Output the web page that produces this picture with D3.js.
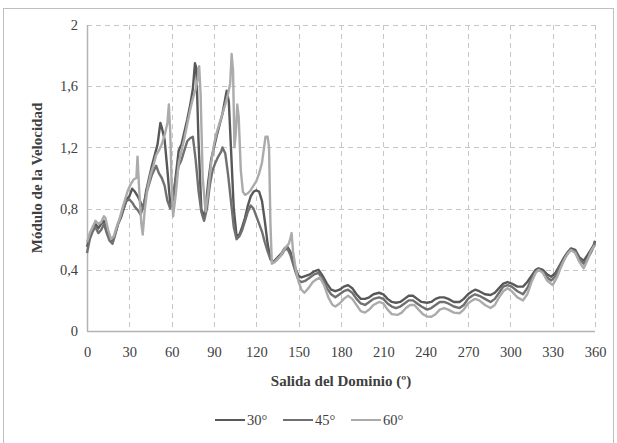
<!DOCTYPE html>
<html>
<head>
<meta charset="utf-8">
<script src="https://cdn.jsdelivr.net/npm/d3@7"></script>
<style>
  body { margin: 0; background: #fff; }
  svg text { font-family: "Liberation Serif", "Tinos", "Times New Roman", "DejaVu Serif", serif; fill: #404040; }
  .tick-label { font-size: 14.5px; }
  .axis-title { font-size: 15px; font-weight: bold; }
  .legend-label { font-size: 14.5px; }
</style>
</head>
<body>
<svg id="chart"></svg>
<script>
// Salida del Dominio (deg) vs Modulo de la Velocidad
const angles30 = [0,2,4,6,8,10,12,14,16,18,20,22,24,26,28,30,32,34,36,38,40,42,44,46,48,50,52,53,55,57,59,61,63,65,67,69,71,73,75,76.5,77.5,79,81,82.5,84,86,88,90,92,94,96,98,99,100.5,102,104,106,108,110,112,114,116,118,120,122,124,126,128,130,132,134,136,138,140,142,144,146,148,150,152,155,158,161,164,167,170,173,176,179,182,185,188,191,194,197,200,203,207,210,213,216,219,222,225,228,231,234,237,241,244,247,250,253,256,260,264,267,270,273,275,278,282,286,289,292,295,298,301,305,309,312,315,318,320,323,326,329,332,335,338,341,343,346,349,352,355,357,359,360];
const vel30 = [0.55,0.62,0.66,0.70,0.67,0.70,0.72,0.65,0.60,0.58,0.64,0.70,0.74,0.80,0.86,0.88,0.93,0.91,0.88,0.84,0.80,0.92,1.00,1.08,1.15,1.22,1.36,1.33,1.25,1.05,0.83,0.86,1.02,1.18,1.22,1.30,1.38,1.47,1.58,1.75,1.72,1.25,0.80,0.74,0.80,0.98,1.12,1.20,1.28,1.35,1.42,1.52,1.57,1.50,1.20,0.80,0.62,0.63,0.68,0.74,0.82,0.88,0.91,0.92,0.91,0.85,0.72,0.57,0.47,0.45,0.47,0.49,0.51,0.54,0.55,0.52,0.46,0.40,0.36,0.35,0.36,0.37,0.39,0.40,0.36,0.31,0.27,0.26,0.27,0.29,0.30,0.28,0.24,0.21,0.21,0.22,0.24,0.25,0.24,0.21,0.19,0.185,0.19,0.21,0.23,0.23,0.21,0.19,0.185,0.19,0.21,0.22,0.22,0.21,0.19,0.19,0.21,0.24,0.26,0.27,0.26,0.24,0.235,0.25,0.28,0.31,0.32,0.31,0.29,0.29,0.32,0.36,0.40,0.41,0.40,0.37,0.355,0.38,0.43,0.48,0.52,0.54,0.53,0.48,0.46,0.50,0.53,0.56,0.59];

const angles45 = [0,2,4,6,8,10,12,14,16,18,20,22,24,26,28,30,32,34,36,38,40,42,44,46,48,49,51,53,55,57,59,61,63,65,67,69,71,73,75,77,79,81,83,85,87,89,91,93,95,96,98,100,102,104,106,108,110,112,114,116,118,120,122,124,126,128,130,132,134,136,138,140,142,144,146,148,150,152,155,158,161,164,167,170,173,176,179,182,185,188,191,194,197,200,203,207,210,213,216,219,222,225,228,231,234,237,241,244,247,250,253,256,260,264,267,270,273,275,278,282,286,289,292,295,298,301,305,309,312,315,318,320,323,326,329,332,335,338,341,343,346,349,352,355,357,359,360];
const vel45 = [0.51,0.60,0.65,0.68,0.64,0.66,0.70,0.64,0.59,0.57,0.63,0.70,0.75,0.80,0.85,0.86,0.84,0.81,0.79,0.76,0.82,0.90,0.96,1.02,1.06,1.08,1.03,1.00,0.95,0.85,0.80,0.88,1.00,1.08,1.12,1.18,1.24,1.26,1.27,1.12,0.92,0.78,0.72,0.80,0.95,1.05,1.10,1.14,1.17,1.20,1.16,1.02,0.85,0.68,0.60,0.62,0.66,0.72,0.78,0.82,0.80,0.75,0.70,0.65,0.58,0.52,0.47,0.45,0.46,0.48,0.50,0.53,0.54,0.50,0.44,0.38,0.33,0.32,0.33,0.35,0.37,0.38,0.34,0.28,0.24,0.22,0.24,0.26,0.27,0.25,0.21,0.18,0.17,0.19,0.21,0.22,0.21,0.18,0.16,0.15,0.16,0.18,0.20,0.20,0.18,0.16,0.14,0.15,0.17,0.19,0.19,0.18,0.16,0.15,0.17,0.21,0.23,0.24,0.23,0.21,0.19,0.21,0.25,0.29,0.30,0.29,0.26,0.24,0.28,0.34,0.39,0.40,0.39,0.35,0.33,0.36,0.42,0.47,0.51,0.53,0.52,0.47,0.44,0.48,0.51,0.55,0.58];

const angles60 = [0,2,4,6,8,10,12,13,15,17,19,21,23,25,27,29,31,33,35,35.8,37,38.5,39.5,41,43,45,47,49,51,53,55,57,58,59,60,61,63,65,67,69,71,73,75,77,78.5,79.5,80.5,82,84,86,88,90,92,94,96,98,100,101.5,102.5,103.5,104.5,105.5,106.5,107.5,109,110.5,112,114,116,118,120,122,124,125.5,126.5,128,129,130,131,133,135,137,139,141,143,144,145,146,148,150,152,154,157,160,163,165,168,171,174,176,179,182,185,188,191,194,197,200,203,207,210,213,216,220,223,226,229,232,235,238,241,244,247,250,253,256,260,264,267,270,273,275,278,282,286,289,292,295,298,301,305,309,312,315,318,320,323,326,330,333,336,339,341,343,346,349,352,355,357,359,360];
const vel60 = [0.58,0.64,0.68,0.72,0.70,0.71,0.75,0.74,0.66,0.60,0.62,0.68,0.73,0.80,0.86,0.92,0.96,0.99,1.00,1.14,0.92,0.70,0.63,0.80,0.94,1.02,1.08,1.15,1.18,1.22,1.28,1.36,1.48,1.30,0.95,0.75,0.90,1.10,1.18,1.26,1.35,1.44,1.52,1.58,1.65,1.73,1.55,1.00,0.78,0.92,1.10,1.22,1.30,1.36,1.42,1.48,1.55,1.62,1.81,1.70,1.20,1.30,1.48,1.40,1.05,0.91,0.89,0.90,0.92,0.95,0.98,1.03,1.10,1.20,1.27,1.27,1.20,0.70,0.44,0.45,0.47,0.49,0.52,0.55,0.57,0.60,0.64,0.52,0.40,0.32,0.27,0.25,0.28,0.32,0.34,0.35,0.30,0.22,0.17,0.16,0.18,0.21,0.23,0.21,0.17,0.13,0.12,0.14,0.17,0.19,0.18,0.14,0.11,0.105,0.12,0.15,0.17,0.17,0.14,0.11,0.095,0.093,0.11,0.14,0.15,0.14,0.12,0.116,0.14,0.18,0.20,0.21,0.20,0.17,0.15,0.17,0.22,0.26,0.28,0.26,0.22,0.20,0.24,0.32,0.38,0.40,0.38,0.33,0.30,0.35,0.42,0.48,0.51,0.53,0.51,0.45,0.41,0.47,0.52,0.55,0.56];

const seriesNames = ["30°", "45°", "60°"];
const seriesColors = ["#585858", "#707070", "#ababab"];
const xTicks = [0,30,60,90,120,150,180,210,240,270,300,330,360];
const yTicks = [0,0.4,0.8,1.2,1.6,2];

const config = {
  width: 617, height: 443,
  margin: { top: 25, right: 22, bottom: 112, left: 87 }
};

const series = [
  { name: seriesNames[0], color: seriesColors[0], values: angles30.map((a, i) => ({ a, v: vel30[i] })) },
  { name: seriesNames[1], color: seriesColors[1], values: angles45.map((a, i) => ({ a, v: vel45[i] })) },
  { name: seriesNames[2], color: seriesColors[2], values: angles60.map((a, i) => ({ a, v: vel60[i] })) }
];

const innerW = config.width - config.margin.left - config.margin.right;
const innerH = config.height - config.margin.top - config.margin.bottom;

const svg = d3.select('#chart')
    .attr('width', config.width)
    .attr('height', config.height);

// outer frame of the chart area
svg.append('rect')
    .attr('x', 3.5).attr('y', 8.5)
    .attr('width', 610).attr('height', 440)
    .attr('fill', 'none')
    .attr('stroke', '#bfbfbf');

const chart = svg.append('g')
    .attr('transform', `translate(${config.margin.left},${config.margin.top})`);

const xScale = d3.scaleLinear().domain([0, 360]).range([0, innerW]);
const yScale = d3.scaleLinear().domain([0, 2]).range([innerH, 0]);

const fmt = d => d3.format('.1f')(d).replace('.', ',').replace(',0', '');

// gridlines
chart.append('g')
    .selectAll('line.hgrid')
    .data(yTicks.filter(d => d > 0))
    .join('line')
    .attr('x1', 0).attr('x2', innerW)
    .attr('y1', d => Math.round(yScale(d)) + 0.5)
    .attr('y2', d => Math.round(yScale(d)) + 0.5)
    .attr('stroke', '#c6c6c6')
    .attr('stroke-dasharray', '5,4');

chart.append('g')
    .selectAll('line.vgrid')
    .data(xTicks.filter(d => d > 0))
    .join('line')
    .attr('x1', d => Math.round(xScale(d)) + 0.5)
    .attr('x2', d => Math.round(xScale(d)) + 0.5)
    .attr('y1', 0).attr('y2', innerH)
    .attr('stroke', '#c6c6c6')
    .attr('stroke-dasharray', '5,4');

// axis lines
chart.append('line')
    .attr('x1', 0.5).attr('x2', 0.5)
    .attr('y1', 0).attr('y2', innerH)
    .attr('stroke', '#b3b3b3').attr('stroke-width', 1.5);
chart.append('line')
    .attr('x1', 0).attr('x2', innerW)
    .attr('y1', innerH + 0.5).attr('y2', innerH + 0.5)
    .attr('stroke', '#b3b3b3').attr('stroke-width', 1.5);

// tick labels
const xAxis = d3.axisBottom(xScale).tickValues(xTicks).tickSize(0).tickPadding(16);
const yAxis = d3.axisLeft(yScale).tickValues(yTicks).tickSize(0).tickPadding(9).tickFormat(fmt);

chart.append('g')
    .attr('transform', `translate(0,${innerH})`)
    .call(xAxis)
    .call(g => g.select('.domain').remove())
    .selectAll('text').attr('class', 'tick-label').attr('fill', '#404040');

chart.append('g')
    .call(yAxis)
    .call(g => g.select('.domain').remove())
    .selectAll('text').attr('class', 'tick-label').attr('fill', '#404040');

// lines
const line = d3.line()
    .x(d => xScale(d.a))
    .y(d => yScale(d.v));

chart.selectAll('.series')
    .data(series)
    .join('path')
    .attr('class', 'series')
    .attr('d', d => line(d.values))
    .attr('fill', 'none')
    .attr('stroke', d => d.color)
    .attr('stroke-width', 2.4)
    .attr('stroke-linejoin', 'round');

// axis titles
svg.append('text')
    .attr('class', 'axis-title')
    .attr('x', config.margin.left + innerW / 2)
    .attr('y', 386)
    .attr('text-anchor', 'middle')
    .text('Salida del Dominio (º)');

svg.append('text')
    .attr('class', 'axis-title')
    .attr('transform', `translate(42,${config.margin.top + innerH / 2}) rotate(-90)`)
    .attr('text-anchor', 'middle')
    .text('Módulo de la Velocidad');

// legend
const legend = svg.append('g').attr('transform', 'translate(215,420)');
const item = legend.selectAll('g')
    .data(series)
    .join('g')
    .attr('transform', (d, i) => `translate(${i * 68},0)`);
item.append('line')
    .attr('x1', 0).attr('x2', 30)
    .attr('stroke', d => d.color)
    .attr('stroke-width', 2);
item.append('text')
    .attr('class', 'legend-label')
    .attr('x', 32).attr('dy', '0.35em')
    .text(d => d.name);
</script>
</body>
</html>
